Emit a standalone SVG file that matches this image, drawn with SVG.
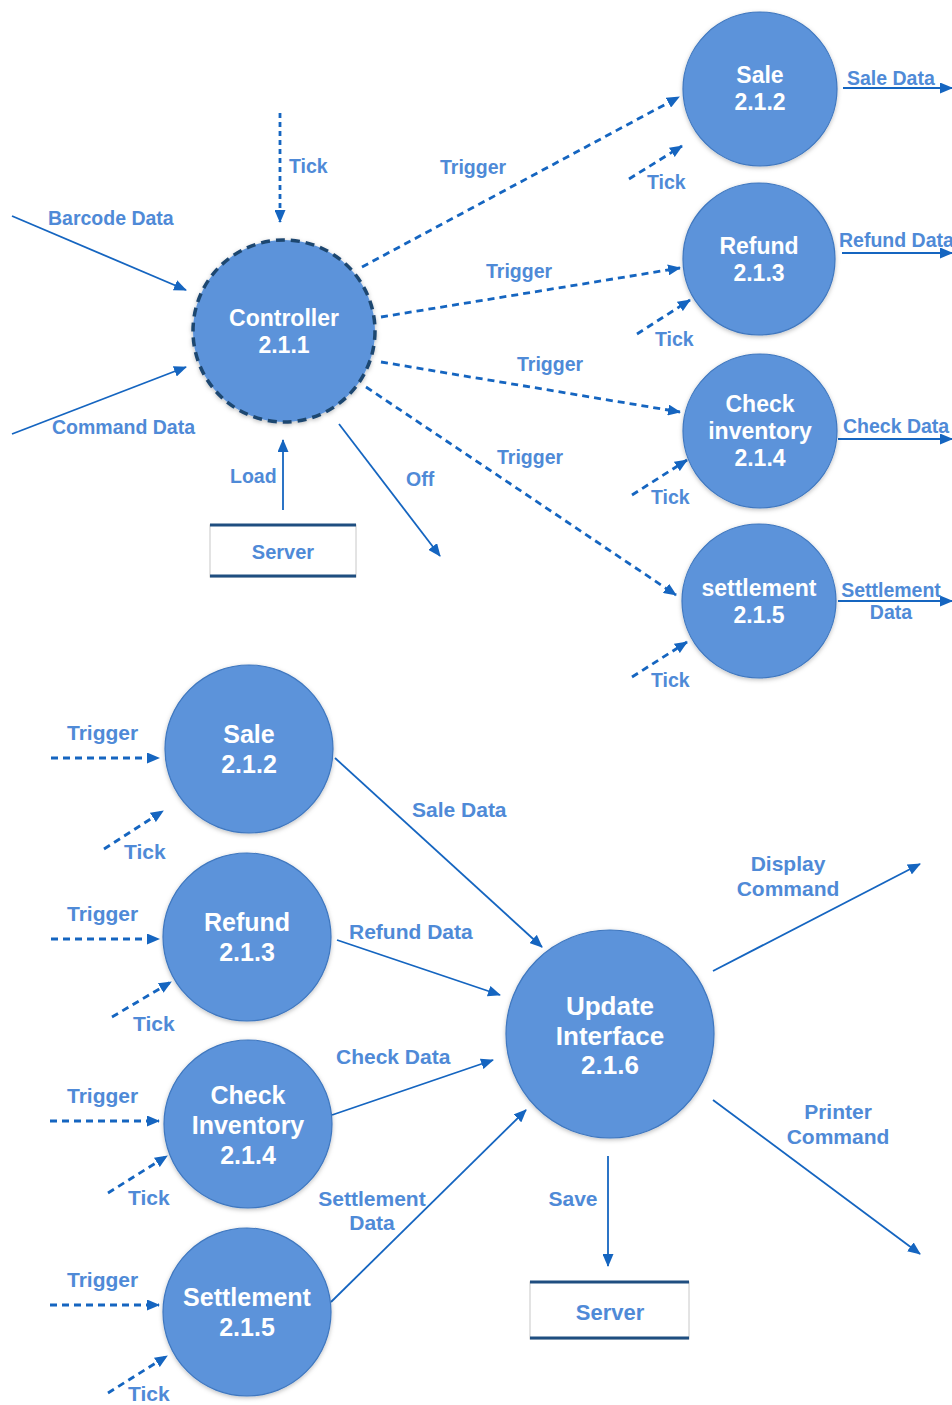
<svg xmlns="http://www.w3.org/2000/svg" width="952" height="1405" viewBox="0 0 952 1405">
<style>
.proc{fill:#5b93da;stroke:#3f77bf;stroke-width:1.2;filter:url(#sh)}
.ctrl{fill:#5b93da;stroke:#1f466f;stroke-width:3.5;stroke-dasharray:9 6;filter:url(#sh)}
.ptxt{font-family:"Liberation Sans",Arial,sans-serif;font-weight:bold;fill:#ffffff;text-anchor:middle}
.t23{font-size:23px}
.t25{font-size:25px}
.t26{font-size:26px}
.lbl{font-family:"Liberation Sans",Arial,sans-serif;font-weight:bold;fill:#4f8ad7}
.s1{font-size:19.5px}
.s2{font-size:21px}
.mid{text-anchor:middle}
.flow{fill:none;stroke:#1565c0;stroke-width:1.8;marker-end:url(#ah)}
.dash{fill:none;stroke:#1565c0;stroke-width:2.8;stroke-dasharray:7 5;marker-end:url(#ah)}
.store{fill:#ffffff;stroke:#c8c8c8;stroke-width:1}
.bar{stroke:#1f4e80;stroke-width:3}
</style>
<defs>
<marker id="ah" markerUnits="userSpaceOnUse" markerWidth="13" markerHeight="11" refX="12" refY="5.5" orient="auto">
<path d="M0,0 L13,5.5 L0,11 z" fill="#1565c0"/>
</marker>
<filter id="sh" x="-20%" y="-20%" width="140%" height="140%">
<feDropShadow dx="0" dy="1.5" stdDeviation="2" flood-color="#000" flood-opacity="0.25"/>
</filter>
</defs>
<rect x="0" y="0" width="952" height="1405" fill="#ffffff"/>

<g id="connectors">
<!-- top section -->
<line class="dash" x1="280" y1="113" x2="280" y2="222" style="stroke-dasharray:5 4"/>
<line class="flow" x1="12" y1="216" x2="186" y2="290"/>
<line class="flow" x1="12" y1="434" x2="186" y2="367"/>
<line class="flow" x1="283" y1="510" x2="283" y2="440"/>
<line class="flow" x1="339" y1="424" x2="440" y2="556"/>
<line class="dash" x1="362" y1="267" x2="679" y2="97"/>
<line class="dash" x1="381" y1="317" x2="680" y2="268"/>
<line class="dash" x1="381" y1="362" x2="680" y2="412"/>
<line class="dash" x1="366" y1="387" x2="676" y2="595"/>
<line class="dash" x1="629" y1="179" x2="682" y2="146"/>
<line class="dash" x1="637" y1="334" x2="690" y2="300"/>
<line class="dash" x1="632" y1="495" x2="687" y2="460"/>
<line class="dash" x1="632" y1="677" x2="687" y2="642"/>
<line class="flow" x1="843" y1="88" x2="952" y2="88"/>
<line class="flow" x1="842" y1="253" x2="952" y2="253"/>
<line class="flow" x1="838" y1="439" x2="952" y2="439"/>
<line class="flow" x1="838" y1="601" x2="952" y2="601"/>
<!-- bottom section -->
<line class="dash" x1="51" y1="758" x2="159" y2="758"/>
<line class="dash" x1="51" y1="939" x2="159" y2="939"/>
<line class="dash" x1="50" y1="1121" x2="159" y2="1121"/>
<line class="dash" x1="50" y1="1305" x2="159" y2="1305"/>
<line class="dash" x1="104" y1="849" x2="163" y2="811"/>
<line class="dash" x1="112" y1="1017" x2="171" y2="982"/>
<line class="dash" x1="108" y1="1193" x2="167" y2="1156"/>
<line class="dash" x1="108" y1="1393" x2="167" y2="1356"/>
<line class="flow" x1="335" y1="758" x2="542" y2="947"/>
<line class="flow" x1="337" y1="940" x2="500" y2="995"/>
<line class="flow" x1="332" y1="1115" x2="493" y2="1060"/>
<line class="flow" x1="331" y1="1302" x2="526" y2="1110"/>
<line class="flow" x1="713" y1="971" x2="920" y2="864"/>
<line class="flow" x1="713" y1="1100" x2="920" y2="1254"/>
<line class="flow" x1="608" y1="1156" x2="608" y2="1266"/>
</g>

<g id="labels">
<text class="lbl s1" x="289" y="173">Tick</text>
<text class="lbl s1" x="48" y="225">Barcode Data</text>
<text class="lbl s1" x="52" y="434">Command Data</text>
<text class="lbl s1" x="230" y="483">Load</text>
<text class="lbl s1" x="406" y="486">Off</text>
<text class="lbl s1" x="440" y="174">Trigger</text>
<text class="lbl s1" x="486" y="278">Trigger</text>
<text class="lbl s1" x="517" y="371">Trigger</text>
<text class="lbl s1" x="497" y="464">Trigger</text>
<text class="lbl s1" x="647" y="189">Tick</text>
<text class="lbl s1" x="655" y="346">Tick</text>
<text class="lbl s1" x="651" y="504">Tick</text>
<text class="lbl s1" x="651" y="687">Tick</text>
<text class="lbl s1" x="847" y="85">Sale Data</text>
<text class="lbl s1" x="839" y="247">Refund Data</text>
<text class="lbl s1" x="843" y="433">Check Data</text>
<text class="lbl s1 mid" x="891" y="597">Settlement</text>
<text class="lbl s1 mid" x="891" y="619">Data</text>

<text class="lbl s2" x="67" y="740">Trigger</text>
<text class="lbl s2" x="67" y="921">Trigger</text>
<text class="lbl s2" x="67" y="1103">Trigger</text>
<text class="lbl s2" x="67" y="1287">Trigger</text>
<text class="lbl s2" x="124" y="859">Tick</text>
<text class="lbl s2" x="133" y="1031">Tick</text>
<text class="lbl s2" x="128" y="1205">Tick</text>
<text class="lbl s2" x="128" y="1401">Tick</text>
<text class="lbl s2" x="412" y="817">Sale Data</text>
<text class="lbl s2" x="349" y="939">Refund Data</text>
<text class="lbl s2" x="336" y="1064">Check Data</text>
<text class="lbl s2 mid" x="372" y="1206">Settlement</text>
<text class="lbl s2 mid" x="372" y="1230">Data</text>
<text class="lbl s2 mid" x="788" y="871">Display</text>
<text class="lbl s2 mid" x="788" y="896">Command</text>
<text class="lbl s2 mid" x="838" y="1119">Printer</text>
<text class="lbl s2 mid" x="838" y="1144">Command</text>
<text class="lbl s2 mid" x="573" y="1206">Save</text>
</g>

<g id="controller">
<circle class="ctrl" cx="284" cy="331" r="91"/>
<text class="ptxt t23" x="284" y="326">Controller</text>
<text class="ptxt t23" x="284" y="353">2.1.1</text>
</g>

<g id="server-top">
<rect class="store" x="210" y="525" width="146" height="52"/>
<line class="bar" x1="210" y1="525" x2="356" y2="525"/>
<line class="bar" x1="210" y1="576" x2="356" y2="576"/>
<text class="lbl mid" x="283" y="559" style="font-size:20px">Server</text>
</g>

<g id="sale-top">
<circle class="proc" cx="760" cy="89" r="77"/>
<text class="ptxt t23" x="760" y="83">Sale</text>
<text class="ptxt t23" x="760" y="110">2.1.2</text>
</g>
<g id="refund-top">
<circle class="proc" cx="759" cy="259" r="76"/>
<text class="ptxt t23" x="759" y="254">Refund</text>
<text class="ptxt t23" x="759" y="281">2.1.3</text>
</g>
<g id="check-top">
<circle class="proc" cx="760" cy="431" r="77"/>
<text class="ptxt t23" x="760" y="412">Check</text>
<text class="ptxt t23" x="760" y="439">inventory</text>
<text class="ptxt t23" x="760" y="466">2.1.4</text>
</g>
<g id="settlement-top">
<circle class="proc" cx="759" cy="601" r="77"/>
<text class="ptxt t23" x="759" y="596">settlement</text>
<text class="ptxt t23" x="759" y="623">2.1.5</text>
</g>

<g id="sale-bottom">
<circle class="proc" cx="249" cy="749" r="84"/>
<text class="ptxt t25" x="249" y="743">Sale</text>
<text class="ptxt t25" x="249" y="773">2.1.2</text>
</g>
<g id="refund-bottom">
<circle class="proc" cx="247" cy="937" r="84"/>
<text class="ptxt t25" x="247" y="931">Refund</text>
<text class="ptxt t25" x="247" y="961">2.1.3</text>
</g>
<g id="check-bottom">
<circle class="proc" cx="248" cy="1124" r="84"/>
<text class="ptxt t25" x="248" y="1104">Check</text>
<text class="ptxt t25" x="248" y="1134">Inventory</text>
<text class="ptxt t25" x="248" y="1164">2.1.4</text>
</g>
<g id="settlement-bottom">
<circle class="proc" cx="247" cy="1312" r="84"/>
<text class="ptxt t25" x="247" y="1306">Settlement</text>
<text class="ptxt t25" x="247" y="1336">2.1.5</text>
</g>
<g id="update-interface">
<circle class="proc" cx="610" cy="1034" r="104"/>
<text class="ptxt t26" x="610" y="1015">Update</text>
<text class="ptxt t26" x="610" y="1045">Interface</text>
<text class="ptxt t26" x="610" y="1074">2.1.6</text>
</g>

<g id="server-bottom">
<rect class="store" x="530" y="1282" width="159" height="57"/>
<line class="bar" x1="530" y1="1282" x2="689" y2="1282"/>
<line class="bar" x1="530" y1="1338" x2="689" y2="1338"/>
<text class="lbl mid" x="610" y="1320" style="font-size:22px">Server</text>
</g>
</svg>
